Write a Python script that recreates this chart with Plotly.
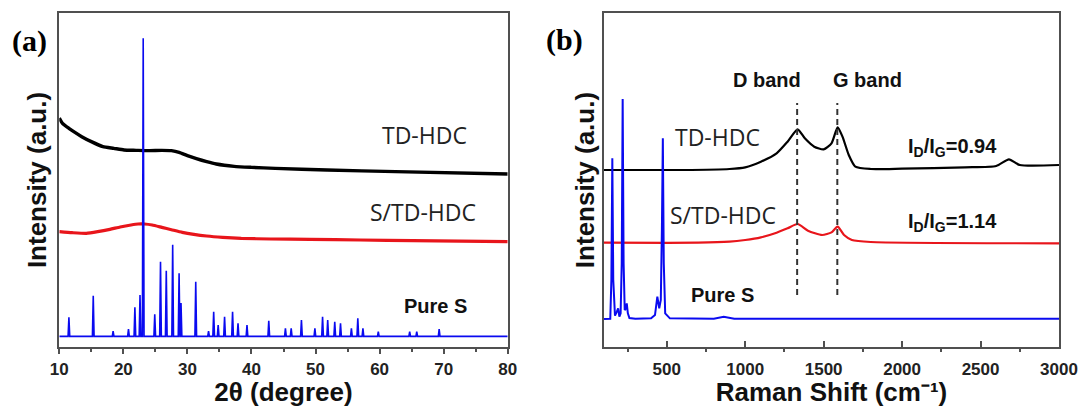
import plotly.graph_objects as go

# ---------------- (a) XRD ----------------
# Broad patterns (2θ in degrees, intensity in arbitrary offset units)
xrd_td_x = [10, 10.5, 11.5, 12.5, 13.5, 15.0, 16.8, 18.5, 20.1, 22.0, 24.0, 26.0, 27.5, 28.7,
            30.0, 31.4, 33.0, 34.5, 37.3, 40.0, 43.7, 51.8, 62.5, 80]
xrd_td_y = [68.6, 67.0, 65.5, 64.2, 63.0, 61.5, 60.0, 59.5, 59.0, 58.9, 58.8, 58.9, 58.8, 58.3,
            57.3, 56.4, 55.5, 54.8, 54.1, 53.8, 53.5, 53.0, 52.5, 51.8]

xrd_std_x = [10, 12.0, 14.2, 16.0, 17.9, 19.5, 21.2, 22.3, 23.3, 24.5, 26.0, 27.5, 29.2, 31.0,
             33.0, 35.5, 38.4, 43.0, 49.1, 57.0, 65.2, 80]
xrd_std_y = [34.5, 34.2, 34.0, 34.5, 35.2, 35.9, 36.5, 36.8, 36.8, 36.5, 35.8, 35.1, 34.3, 33.7,
             33.2, 32.8, 32.5, 32.3, 32.2, 32.0, 31.8, 31.5]

# Pure sulfur reflections: positions and peak tops, on a flat baseline
xrd_s_base = 3.1
xrd_s_pos = [11.5, 15.3, 18.4, 20.8, 21.8, 22.6, 23.1, 24.9, 25.8, 26.7, 27.7, 28.7, 29.0,
             31.3, 33.3, 34.1, 34.8, 35.8, 37.05, 37.9, 39.3, 42.7, 45.3, 46.2, 47.8,
             49.9, 51.1, 51.9, 53.0, 53.9, 55.6, 56.6, 57.4, 59.8, 64.7, 65.8, 69.3]
xrd_s_top = [8.8, 15.3, 4.7, 5.3, 11.8, 15.5, 92.5, 9.7, 25.5, 22.8, 30.6, 22.0, 13.1,
             19.5, 4.7, 10.5, 6.5, 9.0, 10.5, 7.0, 6.5, 7.8, 5.5, 5.5, 8.0,
             5.5, 9.0, 8.0, 7.5, 7.0, 5.5, 8.5, 5.5, 4.5, 4.5, 4.5, 5.3]
xrd_s_halfwidth = 0.13
xrd_ticks = [10, 20, 30, 40, 50, 60, 70, 80]

# ---------------- (b) Raman ----------------
raman_td_x = [100, 600, 900, 1000, 1100, 1200, 1270, 1334, 1380, 1440, 1500, 1550, 1589,
              1620, 1660, 1702, 1800, 2000, 2400, 2600, 2681, 2750, 3000]
raman_td_y = [53.0, 53.0, 53.3, 53.8, 55.5, 58.0, 61.5, 65.2, 62.5, 60.0, 59.2, 61.0, 65.8,
              63.0, 57.5, 54.0, 53.3, 53.4, 53.8, 54.2, 56.2, 54.5, 54.5]

raman_std_x = [100, 700, 900, 1000, 1100, 1200, 1270, 1334, 1400, 1490, 1550, 1589,
               1630, 1680, 1800, 3000]
raman_std_y = [31.2, 31.2, 31.5, 32.0, 32.8, 34.2, 35.5, 36.8, 34.8, 33.5, 34.3, 36.0,
               33.5, 32.0, 31.4, 31.0]

raman_s_x = [100, 140, 147, 153, 159, 170, 182, 190, 198, 206, 213, 219, 225, 232, 240,
             245, 252, 262, 300, 400, 425, 440, 452, 462, 469, 475, 481, 490, 520, 800,
             863, 930, 3000]
raman_s_y = [8.3, 8.4, 20.0, 56.5, 20.0, 9.3, 10.5, 11.5, 9.0, 10.0, 25.0, 74.3, 25.0, 11.0,
             11.5, 13.0, 10.0, 8.6, 8.4, 8.5, 9.5, 15.0, 11.5, 14.0, 35.0, 62.5, 25.0, 10.0,
             8.5, 8.4, 9.0, 8.4, 8.4]
raman_ticks = [500, 1000, 1500, 2000, 2500, 3000]
raman_minor = [250, 750, 1250, 1750, 2250, 2750]

band_pos = [1331, 1587]
band_span = [15.5, 73.1]

BLACK = "#000000"
RED = "#e8151b"
BLUE = "#0a0af0"
FRAME = "#505050"

# Spike polyline for the sulfur XRD pattern
order = sorted(range(len(xrd_s_pos)), key=lambda i: xrd_s_pos[i])
sx, sy = [10], [xrd_s_base]
for i in order:
    p, t = xrd_s_pos[i], xrd_s_top[i]
    sx += [p - xrd_s_halfwidth, p, p + xrd_s_halfwidth]
    sy += [xrd_s_base, t, xrd_s_base]
sx.append(80)
sy.append(xrd_s_base)

fig = go.Figure()

fig.add_trace(go.Scatter(x=xrd_td_x, y=xrd_td_y, mode="lines", line=dict(color=BLACK, width=3.4, shape="spline", smoothing=0.5),
                         xaxis="x", yaxis="y", showlegend=False))
fig.add_trace(go.Scatter(x=xrd_std_x, y=xrd_std_y, mode="lines", line=dict(color=RED, width=3.2, shape="spline", smoothing=0.5),
                         xaxis="x", yaxis="y", showlegend=False))
fig.add_trace(go.Scatter(x=sx, y=sy, mode="lines", line=dict(color=BLUE, width=1.6),
                         xaxis="x", yaxis="y", showlegend=False))

fig.add_trace(go.Scatter(x=raman_td_x, y=raman_td_y, mode="lines", line=dict(color=BLACK, width=2.2, shape="spline", smoothing=0.6),
                         xaxis="x2", yaxis="y2", showlegend=False))
fig.add_trace(go.Scatter(x=raman_std_x, y=raman_std_y, mode="lines", line=dict(color=RED, width=2.2, shape="spline", smoothing=0.6),
                         xaxis="x2", yaxis="y2", showlegend=False))
fig.add_trace(go.Scatter(x=raman_s_x, y=raman_s_y, mode="lines", line=dict(color=BLUE, width=2),
                         xaxis="x2", yaxis="y2", showlegend=False))
for b in band_pos:
    fig.add_trace(go.Scatter(x=[b, b], y=band_span, mode="lines",
                             line=dict(color="#333333", width=2, dash="6px,4px"),
                             xaxis="x2", yaxis="y2", showlegend=False))

SANS_B = "Liberation Sans, Arial, sans-serif"
SANS_R = "Open Sans, sans-serif"
SERIF_B = "Liberation Serif, Times New Roman, serif"

def ann(x, y, text, ref, font, size, color="#111111", bold=False):
    fig.add_annotation(x=x, y=y, xref=ref[0], yref=ref[1], text=f"<b>{text}</b>" if bold else text,
                       showarrow=False, font=dict(family=font, size=size, color=color),
                       xanchor="center", yanchor="middle")

ann(67.0, 63.5, "TD-HDC", ("x", "y"), SANS_R, 23, "#222222")
ann(66.8, 40.4, "S/TD-HDC", ("x", "y"), SANS_R, 23, "#222222")
ann(68.8, 12.2, "Pure S", ("x", "y"), SANS_B, 20, bold=True)

ann(821, 62.9, "TD-HDC", ("x2", "y2"), SANS_R, 23, "#222222")
ann(858, 39.5, "S/TD-HDC", ("x2", "y2"), SANS_R, 23, "#222222")
ann(856, 15.5, "Pure S", ("x2", "y2"), SANS_B, 20, bold=True)
ann(1141, 80.0, "D band", ("x2", "y2"), SANS_B, 20, bold=True)
ann(1780, 80.0, "G band", ("x2", "y2"), SANS_B, 20, bold=True)
ann(2321, 59.6, "I<sub>D</sub>/I<sub>G</sub>=0.94", ("x2", "y2"), SANS_B, 20, bold=True)
ann(2321, 37.4, "I<sub>D</sub>/I<sub>G</sub>=1.14", ("x2", "y2"), SANS_B, 20, bold=True)

ann(29 / 1083, 1 - 41 / 407, "(a)", ("paper", "paper"), SERIF_B, 30, "#000000", bold=True)
ann(564 / 1083, 1 - 40 / 407, "(b)", ("paper", "paper"), SERIF_B, 30, "#000000", bold=True)

tickfont = dict(family=SANS_B, size=17, color="#222222")
titlefont = dict(family=SANS_B, size=26, color="#111111")
ydom = [1 - 346.7 / 407, 1 - 13.3 / 407]
frame = dict(showline=True, linecolor=FRAME, linewidth=1.5, mirror=True, showgrid=False,
             zeroline=False, automargin=False)

fig.update_layout(
    width=1083, height=407,
    margin=dict(l=0, r=0, t=0, b=0),
    paper_bgcolor="white", plot_bgcolor="white",
    xaxis=dict(domain=[59.3 / 1083, 507.7 / 1083], range=[10, 80], anchor="y",
               tickvals=xrd_ticks, ticktext=[f"<b>{v}</b>" for v in xrd_ticks],
               ticks="outside", ticklen=6, tickwidth=1.5, tickcolor=FRAME,
               minor=dict(ticks="outside", dtick=5, ticklen=4, tickwidth=1.5, tickcolor=FRAME),
               tickfont=tickfont,
               title=dict(text="<b>2θ (degree)</b>", font=titlefont, standoff=3), **frame),
    yaxis=dict(domain=ydom, range=[0, 100], showticklabels=False, ticks="", anchor="x",
               title=dict(text="<b>Intensity (a.u.)</b>", font=titlefont, standoff=3), **frame),
    xaxis2=dict(domain=[604 / 1083, 1059 / 1083], range=[100, 3000], anchor="y2",
                tickvals=raman_ticks, ticktext=[f"<b>{v}</b>" for v in raman_ticks],
                ticks="inside", ticklen=6, tickwidth=1.5, tickcolor=FRAME, ticklabelstandoff=6,
                minor=dict(ticks="outside", tickvals=raman_minor, ticklen=4, tickwidth=1.5, tickcolor=FRAME),
                tickfont=tickfont,
                title=dict(text="<b>Raman Shift (cm⁻¹)</b>", font=titlefont, standoff=1), **frame),
    yaxis2=dict(domain=ydom, range=[0, 100], showticklabels=False, ticks="", anchor="x2",
                title=dict(text="<b>Intensity (a.u.)</b>", font=titlefont, standoff=0), **frame),
)

fig.write_html("out.html")
